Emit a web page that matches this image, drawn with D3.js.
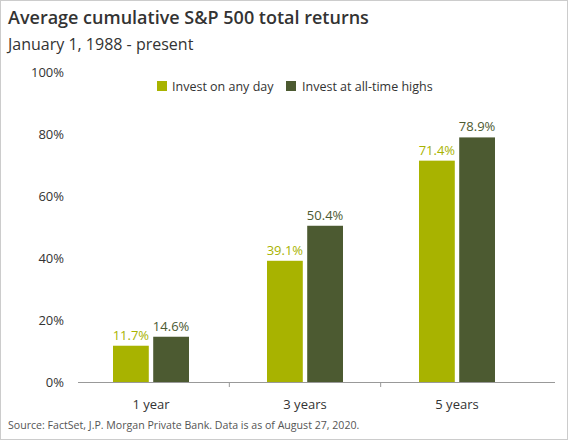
<!DOCTYPE html><html><head><meta charset="utf-8"><script src="https://cdn.jsdelivr.net/npm/d3@7"></script>
<style>body{margin:0;background:#fff}svg{font-family:"Open Sans",sans-serif}</style></head><body>
<svg id="c" width="568" height="440"></svg>
<script>
const categories=["1 year","3 years","5 years"];
const seriesNames=["Invest on any day","Invest at all-time highs"];
const anyDay=[11.7,39.1,71.4];
const allTimeHighs=[14.6,50.4,78.9];
const yTicks=[0,20,40,60,80,100];
const colors=["#a8b300","#4c5a31"];
const svg=d3.select("#c");
svg.append("rect").attr("x",0.5).attr("y",0.5).attr("width",567).attr("height",439).attr("fill","none").attr("stroke","#ccc");
svg.append("text").attr("x",8).attr("y",24).attr("font-size",18).attr("font-weight",600).attr("fill","#333").text("Average cumulative S&P 500 total returns");
svg.append("text").attr("x",8).attr("y",50).attr("font-size",16).attr("fill","#333").text("January 1, 1988 - present");
const y=d3.scaleLinear().domain([0,100]).range([382,72]);
const x=d3.scaleBand().domain(categories).range([78,532]);
const xs=d3.scaleBand().domain([0,1]).range([0,76]).paddingInner(0.11);
svg.selectAll(".yl").data(yTicks).enter().append("text").attr("x",64).attr("y",d=>y(d)+5).attr("text-anchor","end").attr("font-size",13).attr("fill","#333").text(d=>d+"%");
svg.append("line").attr("x1",78).attr("x2",555).attr("y1",382.5).attr("y2",382.5).attr("stroke","#999");
[x("3 years"),x("5 years")].forEach(v=>svg.append("line").attr("x1",v).attr("x2",v).attr("y1",382).attr("y2",387).attr("stroke","#999"));
const data=[anyDay,allTimeHighs];
const centers={"1 year":151,"3 years":305,"5 years":457};
data.forEach((vals,si)=>{
  const g=svg.append("g");
  vals.forEach((v,i)=>{
    const bx=centers[categories[i]]-38+xs(si);
    g.append("rect").attr("x",bx).attr("y",y(v)).attr("width",xs.bandwidth()).attr("height",y(0)-y(v)).attr("fill",colors[si]);
    g.append("text").attr("x",bx+xs.bandwidth()/2).attr("y",y(v)-6).attr("text-anchor","middle").attr("font-size",13).attr("fill",colors[si]).text(v.toFixed(1)+"%");
  });
});
categories.forEach(c=>svg.append("text").attr("x",centers[c]).attr("y",409).attr("text-anchor","middle").attr("font-size",13).attr("fill","#333").text(c));
const leg=[[157,172],[286,302]];
seriesNames.forEach((n,i)=>{
  svg.append("rect").attr("x",leg[i][0]).attr("y",81).attr("width",10).attr("height",10).attr("fill",colors[i]);
  svg.append("text").attr("x",leg[i][1]).attr("y",91).attr("font-size",12.5).attr("fill","#333").text(n);
});
svg.append("text").attr("x",8).attr("y",429).attr("font-size",10.6).attr("fill","#555").text("Source: FactSet, J.P. Morgan Private Bank. Data is as of August 27, 2020.");
</script></body></html>
